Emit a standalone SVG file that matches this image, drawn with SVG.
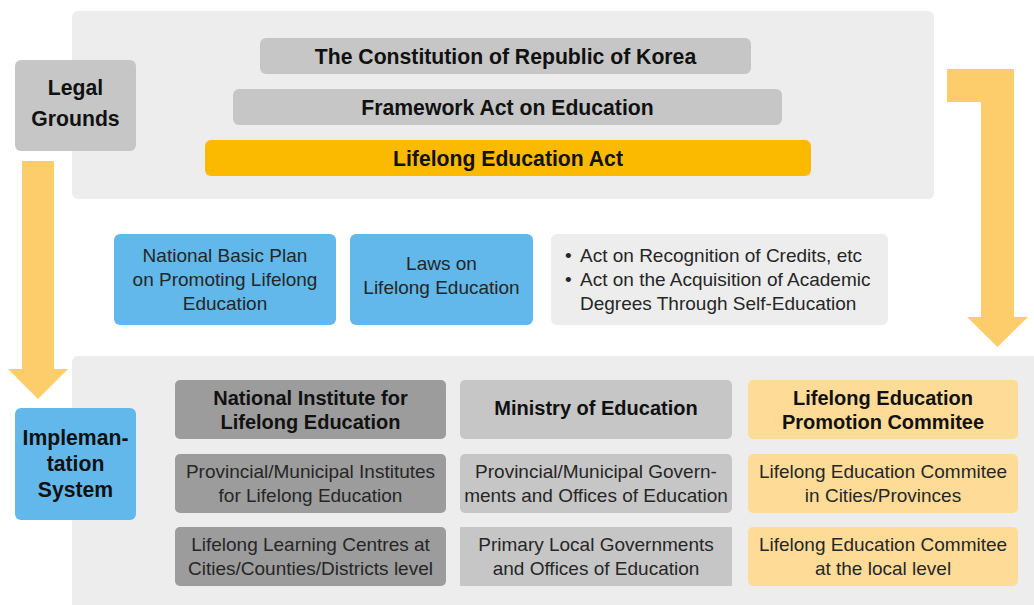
<svg xmlns="http://www.w3.org/2000/svg" width="1034" height="605" viewBox="0 0 1034 605">
<style>
.panel{fill:#ededed}
.bar{fill:#c6c6c6}
.gold{fill:#fbba00}
.blue{fill:#62b8ea}
.dark{fill:#9c9c9c}
.light{fill:#c6c6c6}
.yel{fill:#fedc97}
.arrow{fill:#fecd6b}
text{font-family:"Liberation Sans",Arial,Helvetica,sans-serif;text-anchor:middle}
.b21{font-size:21.2px;font-weight:bold;fill:#111}
.b20{font-size:20px;font-weight:bold;fill:#111}
.r19{font-size:19px;fill:#262626}
.r19l{font-size:19px;fill:#262626;text-anchor:start}
</style>
<rect width="1034" height="605" fill="#ffffff"/>
<g id="legal-panel">
<rect class="panel" x="72" y="11" width="862" height="188" rx="6"/>
</g>
<g id="impl-panel">
<rect class="panel" x="72" y="356" width="990" height="270" rx="6"/>
</g>
<g id="connectors">
<polygon class="arrow" points="22,161 54,161 54,369 68,369 38,399 8,369 22,369"/>
<polygon class="arrow" points="947,69 1014,69 1014,317 1028,317 997.5,347 967,317 981,317 981,102 947,102"/>
</g>
<g id="legal-grounds">
<rect class="bar" x="15" y="60" width="121" height="91" rx="6"/>
<text class="b21" x="75.5" y="95">Legal</text>
<text class="b21" x="75.5" y="126">Grounds</text>
</g>
<g id="constitution">
<rect class="bar" x="260" y="38" width="491" height="36" rx="6"/>
<text class="b21" x="505.5" y="63.5">The Constitution of Republic of Korea</text>
</g>
<g id="framework-act">
<rect class="bar" x="233" y="89" width="549" height="36" rx="6"/>
<text class="b21" x="507.5" y="114.5">Framework Act on Education</text>
</g>
<g id="lifelong-act">
<rect class="gold" x="205" y="140" width="606" height="36" rx="6"/>
<text class="b21" x="508" y="165.5">Lifelong Education Act</text>
</g>
<g id="basic-plan">
<rect class="blue" x="114" y="234" width="222" height="91" rx="6"/>
<text class="r19" x="225" y="262">National Basic Plan</text>
<text class="r19" x="225" y="286">on Promoting Lifelong</text>
<text class="r19" x="225" y="310">Education</text>
</g>
<g id="laws">
<rect class="blue" x="350" y="234" width="183" height="91" rx="6"/>
<text class="r19" x="441.5" y="270">Laws on</text>
<text class="r19" x="441.5" y="294">Lifelong Education</text>
</g>
<g id="other-acts">
<rect class="panel" x="551" y="234" width="337" height="91" rx="6"/>
<text class="r19l" x="565" y="262">•</text>
<text class="r19l" x="580" y="262">Act on Recognition of Credits, etc</text>
<text class="r19l" x="565" y="286">•</text>
<text class="r19l" x="580" y="286">Act on the Acquisition of Academic</text>
<text class="r19l" x="580" y="310">Degrees Through Self-Education</text>
</g>
<g id="implementation-system">
<rect class="blue" x="15" y="408" width="121" height="112" rx="6"/>
<text class="b21" x="75.5" y="445">Impleman-</text>
<text class="b21" x="75.5" y="471">tation</text>
<text class="b21" x="75.5" y="497">System</text>
</g>
<g id="nile">
<rect class="dark" x="175" y="380" width="271" height="59" rx="5"/>
<text class="b20" x="310.5" y="405">National Institute for</text>
<text class="b20" x="310.5" y="429">Lifelong Education</text>
</g>
<g id="provincial-institutes">
<rect class="dark" x="175" y="454" width="271" height="59" rx="5"/>
<text class="r19" x="310.5" y="477.5">Provincial/Municipal Institutes</text>
<text class="r19" x="310.5" y="502">for Lifelong Education</text>
</g>
<g id="learning-centres">
<rect class="dark" x="175" y="527" width="271" height="59" rx="5"/>
<text class="r19" x="310.5" y="550.5">Lifelong Learning Centres at</text>
<text class="r19" x="310.5" y="575">Cities/Counties/Districts level</text>
</g>
<g id="ministry">
<rect class="light" x="460" y="380" width="272" height="59" rx="5"/>
<text class="b20" x="596" y="415">Ministry of Education</text>
</g>
<g id="provincial-governments">
<rect class="light" x="460" y="454" width="272" height="59" rx="5"/>
<text class="r19" x="596" y="477.5">Provincial/Municipal Govern-</text>
<text class="r19" x="596" y="502">ments and Offices of Education</text>
</g>
<g id="local-governments">
<rect class="light" x="460" y="527" width="272" height="59"/>
<text class="r19" x="596" y="550.5">Primary Local Governments</text>
<text class="r19" x="596" y="575">and Offices of Education</text>
</g>
<g id="promotion-committee">
<rect class="yel" x="748" y="380" width="270" height="59" rx="5"/>
<text class="b20" x="883" y="405">Lifelong Education</text>
<text class="b20" x="883" y="429">Promotion Commitee</text>
</g>
<g id="city-committee">
<rect class="yel" x="748" y="454" width="270" height="59" rx="5"/>
<text class="r19" x="883" y="477.5">Lifelong Education Commitee</text>
<text class="r19" x="883" y="502">in Cities/Provinces</text>
</g>
<g id="local-committee">
<rect class="yel" x="748" y="527" width="270" height="59" rx="5"/>
<text class="r19" x="883" y="550.5">Lifelong Education Commitee</text>
<text class="r19" x="883" y="575">at the local level</text>
</g>
</svg>
